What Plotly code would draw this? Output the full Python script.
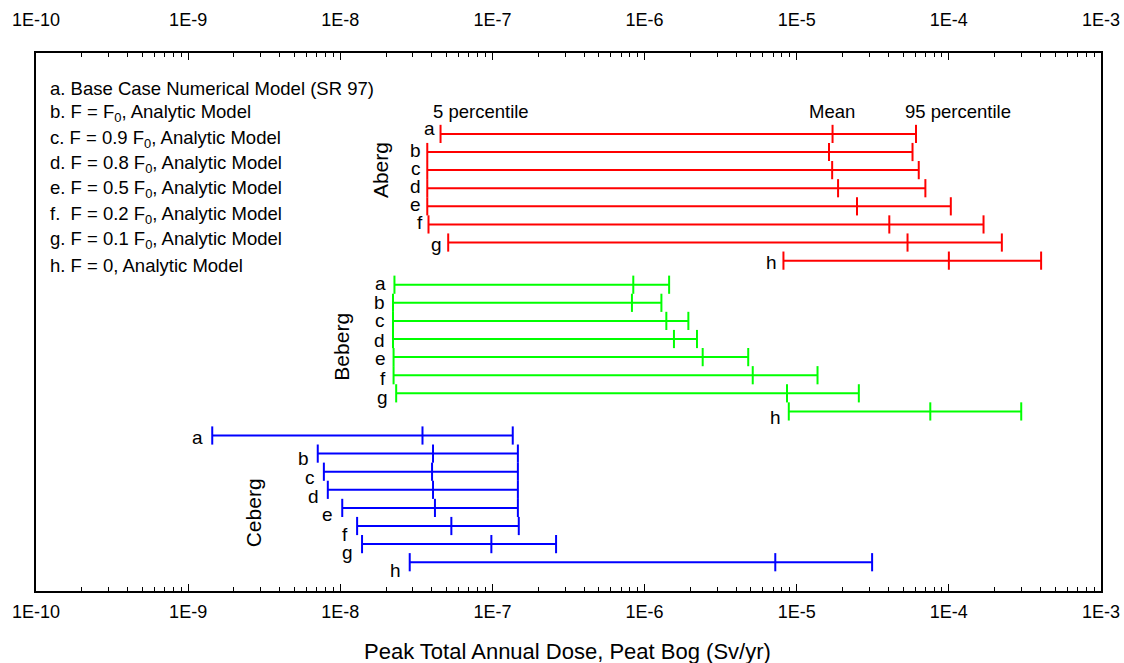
import math
import plotly.graph_objects as go

# ---------------- data ----------------
groups = ["Aberg", "Beberg", "Ceberg"]
cases = ["a", "b", "c", "d", "e", "f", "g", "h"]
colors = ["#FF0000", "#00FF00", "#0000FF"]

aberg_p05 = [4.56e-8, 3.73e-8, 3.73e-8, 3.73e-8, 3.73e-8, 3.80e-8, 5.12e-8, 8.18e-6]
aberg_mean = [1.72e-5, 1.63e-5, 1.71e-5, 1.87e-5, 2.49e-5, 4.06e-5, 5.35e-5, 1.00e-4]
aberg_p95 = [6.08e-5, 5.77e-5, 6.34e-5, 7.01e-5, 1.03e-4, 1.69e-4, 2.23e-4, 4.04e-4]

beberg_p05 = [2.27e-8, 2.22e-8, 2.22e-8, 2.22e-8, 2.24e-8, 2.24e-8, 2.33e-8, 8.87e-6]
beberg_mean = [8.43e-7, 8.26e-7, 1.39e-6, 1.56e-6, 2.41e-6, 5.14e-6, 8.63e-6, 7.55e-5]
beberg_p95 = [1.45e-6, 1.29e-6, 1.94e-6, 2.21e-6, 4.80e-6, 1.37e-5, 2.56e-5, 2.99e-4]

ceberg_p05 = [1.44e-9, 7.11e-9, 7.80e-9, 8.28e-9, 1.03e-8, 1.29e-8, 1.39e-8, 2.86e-8]
ceberg_mean = [3.47e-8, 4.07e-8, 4.01e-8, 4.07e-8, 4.19e-8, 5.37e-8, 9.84e-8, 7.23e-6]
ceberg_p95 = [1.36e-7, 1.47e-7, 1.47e-7, 1.47e-7, 1.47e-7, 1.49e-7, 2.62e-7, 3.13e-5]

legend_lines = [
    "a. Base Case Numerical Model (SR 97)",
    "b. F = F<sub>0</sub>, Analytic Model",
    "c. F = 0.9 F<sub>0</sub>, Analytic Model",
    "d. F = 0.8 F<sub>0</sub>, Analytic Model",
    "e. F = 0.5 F<sub>0</sub>, Analytic Model",
    "f.  F = 0.2 F<sub>0</sub>, Analytic Model",
    "g. F = 0.1 F<sub>0</sub>, Analytic Model",
    "h. F = 0, Analytic Model",
]

tick_vals = [1e-10, 1e-9, 1e-8, 1e-7, 1e-6, 1e-5, 1e-4, 1e-3]
tick_text = ["1E-10", "1E-9", "1E-8", "1E-7", "1E-6", "1E-5", "1E-4", "1E-3"]
x_title = "Peak Total Annual Dose, Peat Bog (Sv/yr)"

# ---------------- layout constants ----------------
FONT = "Liberation Sans, Arial, sans-serif"
GROUP_STRIDE = 8.33
letter_xshift = [-4, -6, -7]
letter_yshift = [
    [5, 2, 2, 2, 2, 2, -2, -2],
    [1, 0, 0, -1, -1, -3, -4, -6],
    [-2, -5, -6, -7, -7, -8, -8, -8],
]
group_label_pos = [  # (paper x, row position)
    (0.323, 2.0),
    (0.287, GROUP_STRIDE + 3.44),
    (0.205, 2 * GROUP_STRIDE + 4.28),
]

series = [
    (aberg_p05, aberg_mean, aberg_p95),
    (beberg_p05, beberg_mean, beberg_p95),
    (ceberg_p05, ceberg_mean, ceberg_p95),
]

fig = go.Figure()
annotations = []

for gi, (p05, mean, p95) in enumerate(series):
    for ri, case in enumerate(cases):
        y = gi * GROUP_STRIDE + ri
        fig.add_trace(go.Scatter(
            x=[p05[ri], mean[ri], p95[ri]],
            y=[y, y, y],
            mode="lines+markers",
            line=dict(color=colors[gi], width=2),
            marker=dict(symbol="line-ns", size=13,
                        line=dict(color=colors[gi], width=2)),
            showlegend=False,
            hoverinfo="x",
        ))
        annotations.append(dict(
            x=math.log10(p05[ri]), y=y, xref="x", yref="y",
            text=case, showarrow=False, xanchor="right", yanchor="middle",
            xshift=letter_xshift[gi], yshift=letter_yshift[gi][ri],
            font=dict(family=FONT, size=19, color="black"),
        ))
    gx, gy = group_label_pos[gi]
    annotations.append(dict(
        x=gx, y=gy, xref="paper", yref="y", text=groups[gi],
        showarrow=False, textangle=-90, xanchor="center", yanchor="middle",
        font=dict(family=FONT, size=21, color="black"),
    ))

# invisible trace for top axis
fig.add_trace(go.Scatter(x=[1e-10, 1e-3], y=[0, 0], xaxis="x2", mode="none",
                         showlegend=False, hoverinfo="skip"))

# legend-style text block
for i, line in enumerate(legend_lines):
    ypix = 88 + i * 25.3
    annotations.append(dict(
        x=0.0113, y=(591 - ypix) / 538, xref="paper", yref="paper",
        text=line, showarrow=False, xanchor="left", yanchor="middle",
        font=dict(family=FONT, size=18.5, color="black"),
    ))

# header labels
for txt, px in [("5 percentile", 481), ("Mean", 832), ("95 percentile", 958)]:
    annotations.append(dict(
        x=(px - 36) / 1065, y=(591 - 112) / 538, xref="paper", yref="paper",
        text=txt, showarrow=False, xanchor="center", yanchor="middle",
        font=dict(family=FONT, size=18.5, color="black"),
    ))

# x-axis title
annotations.append(dict(
    x=0.4995, y=(591 - 651) / 538, xref="paper", yref="paper",
    text=x_title, showarrow=False, xanchor="center", yanchor="middle",
    font=dict(family=FONT, size=22, color="black"),
))

minor_vals = [m * 10.0 ** e for e in range(-10, -3) for m in range(2, 10)]

axis_common = dict(
    type="log", range=[-10, -3], tickmode="array",
    tickvals=tick_vals, ticktext=tick_text,
    ticks="inside", ticklen=7, tickwidth=1, tickcolor="black",
    minor=dict(tickvals=minor_vals, ticks="inside", ticklen=4,
               tickwidth=1, tickcolor="black", showgrid=False),
    showgrid=False, zeroline=False, automargin=False,
    tickfont=dict(family=FONT, size=18, color="black"),
)

fig.update_layout(
    width=1124, height=663,
    margin=dict(l=36, r=23, t=53, b=72, autoexpand=False),
    paper_bgcolor="white", plot_bgcolor="white",
    showlegend=False,
    xaxis=dict(**axis_common, showline=True, linecolor="black", linewidth=1.5,
               mirror=True, ticklabelstandoff=4),
    xaxis2=dict(**axis_common, overlaying="x", side="top", anchor="y",
                showline=False, ticklabelstandoff=22),
    yaxis=dict(range=[25.25, -4.47], showline=True, linecolor="black",
               linewidth=1.5, mirror=True, showticklabels=False, ticks="",
               showgrid=False, zeroline=False, automargin=False),
    annotations=annotations,
)

fig.write_html(
    "out.html",
    config={"displayModeBar": False},
    post_script="document.body.style.margin='0';document.body.style.overflow='hidden';",
)
